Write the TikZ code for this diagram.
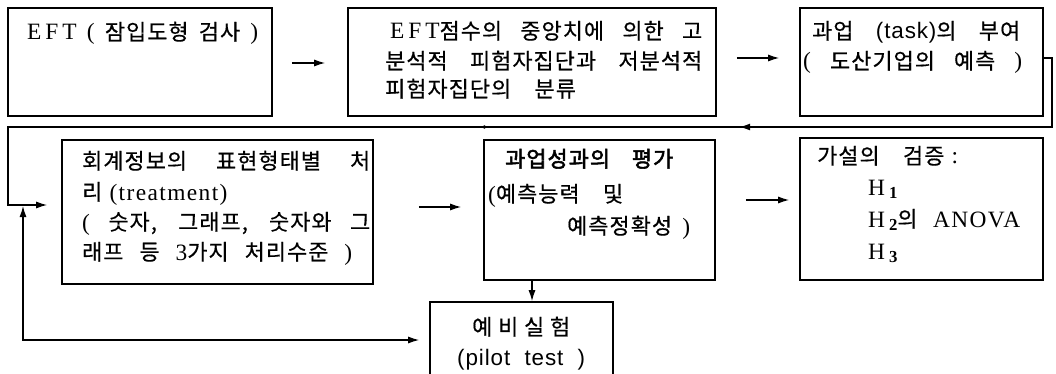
\documentclass[tikz,border=0pt]{standalone}
\usepackage{fontspec}
\setmainfont{Liberation Serif}[Scale=1.2, LetterSpace=6]
\newfontfamily\kr{Noto Sans CJK KR}[Scale=1.12, LetterSpace=5, FakeBold=0.6]
\newfontfamily\krb{Noto Sans CJK KR}[Scale=1.12, LetterSpace=5, FakeBold=2.5]
\newfontfamily\lsans{Liberation Sans}[Scale=1.15, LetterSpace=4]
\newcommand\kor[1]{{\kr #1}}
\newcommand\korb[1]{{\krb #1}}
\newcommand\sns[1]{{\lsans #1}}
\newcommand\Hs[1]{H\,\raisebox{-3pt}{\fontsize{14}{14}\selectfont\bfseries #1}}
\usetikzlibrary{arrows.meta,decorations.markings}
\tikzset{
  box/.style={draw, line width=1.6pt, inner sep=0pt, anchor=center},
  txt/.style={anchor=base west, inner sep=0pt, font=\fontsize{19.5}{30}\selectfont},
  conn/.style={line width=1.3pt},
  arr/.style={conn, -{Latex[length=11pt,width=7pt]}},
}
\begin{document}
\begin{tikzpicture}[x=1pt,y=-1pt]
\path[use as bounding box] (0,0) rectangle (1056,374);
\clip (0,0) rectangle (1056,374);
% boxes
\node[box, minimum width=264pt, minimum height=108pt] (b1) at (140,62) {};
\node[box, minimum width=368pt, minimum height=108pt] (b2) at (532,62) {};
\node[box, minimum width=243pt, minimum height=108pt] (b3) at (921.5,62) {};
\node[box, minimum width=311pt, minimum height=144pt] (b4) at (217.5,212) {};
\node[box, minimum width=231pt, minimum height=140pt] (b5) at (599.5,210) {};
\node[box, minimum width=243pt, minimum height=142pt] (b6) at (921.5,209) {};
\node[box, minimum width=183pt, minimum height=90pt] (b7) at (521.5,347) {};
% texts
\node[txt] (t1) at (27,40) {\makebox[231pt][s]{E\,F\,T ( \kor{잠입도형} \kor{검사} )}};
\node[txt] (t2a) at (390,39) {\makebox[312pt][s]{E\,F\,T\kor{점수의} \kor{중앙치에} \kor{의한} \kor{고}}};
\node[txt] (t2b) at (385,69) {\makebox[317pt][s]{\kor{분석적} \kor{피험자집단과} \kor{저분석적}}};
\node[txt] (t2c) at (385,97) {\kor{피험자집단의}\quad\kor{분류}};
\node[txt] (t3a) at (812,39) {\makebox[208pt][s]{\kor{과업} \sns{(task)}\kor{의} \kor{부여}}};
\node[txt] (t3b) at (803,69) {\makebox[219pt][s]{( \kor{도산기업의} \kor{예측} )}};
\node[txt] (t4a) at (82,169) {\makebox[288pt][s]{\kor{회계정보의} \kor{표현형태별} \kor{처}}};
\node[txt] (t4b) at (82,200) {\kor{리} (treatment)};
\node[txt] (t4c) at (82,230) {\makebox[288pt][s]{( \kor{숫자,} \kor{그래프,} \kor{숫자와} \kor{그}}};
\node[txt] (t4d) at (82,260) {\makebox[270pt][s]{\kor{래프} \kor{등} 3\kor{가지} \kor{처리수준} )}};
\node[txt] (t5a) at (505,167) {\makebox[168pt][s]{\korb{과업성과의} \korb{평가}}};
\node[txt] (t5b) at (488,202) {(\kor{예측능력}\quad\kor{및}};
\node[txt] (t5c) at (567,234) {\makebox[123pt][s]{\kor{예측정확성} )}};
\node[txt] (t6a) at (817,164) {\kor{가설의}\quad\kor{검증} :};
\node[txt] (t6b) at (868,195) {\Hs{1}};
\node[txt] (t6c) at (868,227) {\makebox[152pt][s]{\Hs{2}\kor{의} ANOVA}};
\node[txt] (t6d) at (868,259) {\Hs{3}};
\node[txt] (t7a) at (472,335) {\makebox[98pt][s]{\kor{예} \kor{비} \kor{실} \kor{험}}};
\node[txt] (t7b) at (457,365) {\makebox[128pt][s]{\sns{(pilot} \sns{test} \sns{)}}};
% connectors
\draw[arr, shorten <=19pt, shorten >=22pt] (b1.east |- 0,63) -- (b2.west |- 0,63);
\draw[arr, shorten <=20pt, shorten >=20pt] (b2.east |- 0,58) -- (b3.west |- 0,58);
\draw[arr, shorten <=45pt, shorten >=22pt] (b4.east |- 0,207) -- (b5.west |- 0,207);
\draw[arr, shorten <=30pt, shorten >=10pt] (b5.east |- 0,200) -- (b6.west |- 0,200);
\draw[arr] (b5.south -| 532,0) -- (b7.north -| 532,0);
\coordinate (r1) at (1052,58);
\coordinate (r2) at (1052,127);
\coordinate (l1) at (8,127);
\coordinate (l2) at (8,205);
\draw[arr, shorten >=14pt, postaction={decorate},
  decoration={markings,
    mark=at position 390pt with {\arrow{Latex[length=11pt,width=7pt]}},
    mark=at position 650pt with {\arrow{Latex[length=6pt,width=4pt]}}}]
  (b3.east |- r1) -- (r1) -- (r2) -- (l1) -- (l2) -- (b4.west |- l2);
\coordinate (jn) at (23,206);
\draw[conn, {Latex[length=11pt,width=7pt]}-{Latex[length=11pt,width=7pt]}, shorten >=10pt]
  (jn) -- (23,340) -- (b7.west |- 0,340);
\end{tikzpicture}
\end{document}
